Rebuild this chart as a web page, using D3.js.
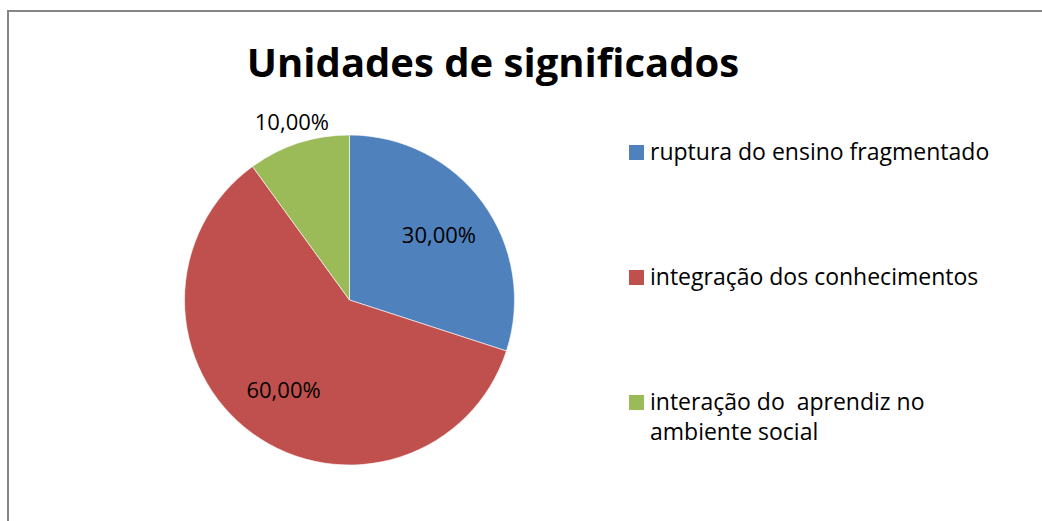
<!DOCTYPE html>
<html>
<head>
<meta charset="utf-8">
<script src="https://d3js.org/d3.v7.min.js"></script>
<style>
  body { margin: 0; background: #fff; }
  svg { display: block; }
  text { font-family: "Open Sans", "DejaVu Sans", sans-serif; }
</style>
</head>
<body>
<div id="chart"></div>
<script>
var title = "Unidades de significados";
var categories = ["ruptura do ensino fragmentado", "integração dos conhecimentos", "interação do  aprendiz no|ambiente social"];
var values = [30, 60, 10];
var valueLabels = ["30,00%", "60,00%", "10,00%"];
var colors = ["#4F81BD", "#C0504D", "#9BBB59"];

var width = 1042, height = 521;
var cx = 349.5, cy = 300, radius = 165;

var svg = d3.select("#chart").append("svg")
  .attr("width", width)
  .attr("height", height);

svg.append("rect")
  .attr("x", 8).attr("y", 11)
  .attr("width", width).attr("height", height)
  .attr("fill", "#fff")
  .attr("stroke", "#868686")
  .attr("stroke-width", 2);

svg.append("text")
  .attr("x", 493).attr("y", 77)
  .attr("text-anchor", "middle")
  .attr("font-size", 40)
  .attr("font-weight", "bold")
  .attr("fill", "#000")
  .text(title);

var pie = d3.pie().sort(null).value(function(d) { return d; });
var arc = d3.arc().innerRadius(0).outerRadius(radius);
var arcs = pie(values);

var g = svg.append("g").attr("transform", "translate(" + cx + "," + cy + ")");

g.selectAll("path")
  .data(arcs).enter()
  .append("path")
  .attr("d", arc)
  .attr("fill", function(d, i) { return colors[i]; })
  .attr("stroke", "#fff")
  .attr("stroke-width", 0.6);

// label positions: inside for big slices, outside for the small one
var labelR = [radius * 0.67, radius * 0.68, radius * 1.13];

g.selectAll("text.lbl")
  .data(arcs).enter()
  .append("text")
  .attr("class", "lbl")
  .attr("transform", function(d, i) {
    var c = d3.arc().innerRadius(labelR[i]).outerRadius(labelR[i]).centroid(d);
    return "translate(" + c[0] + "," + c[1] + ")";
  })
  .attr("text-anchor", "middle")
  .attr("dy", "0.35em")
  .attr("font-size", 22)
  .attr("fill", "#000")
  .text(function(d, i) { return valueLabels[i]; });

var legendY = d3.scalePoint().domain(d3.range(categories.length)).range([152, 402]);

var leg = svg.append("g").selectAll("g")
  .data(categories).enter()
  .append("g")
  .attr("transform", function(d, i) { return "translate(629," + legendY(i) + ")"; });

leg.append("rect")
  .attr("x", 0).attr("y", -7)
  .attr("width", 15).attr("height", 15)
  .attr("fill", function(d, i) { return colors[i]; });

leg.append("text")
  .attr("x", 21)
  .attr("font-size", 23)
  .attr("fill", "#000")
  .attr("xml:space", "preserve")
  .style("white-space", "pre")
  .selectAll("tspan")
  .data(function(d) { return d.split("|"); }).enter()
  .append("tspan")
  .attr("x", 21)
  .attr("dy", function(d, i) { return i === 0 ? "0.35em" : "1.3em"; })
  .text(function(d) { return d; });
</script>
</body>
</html>
